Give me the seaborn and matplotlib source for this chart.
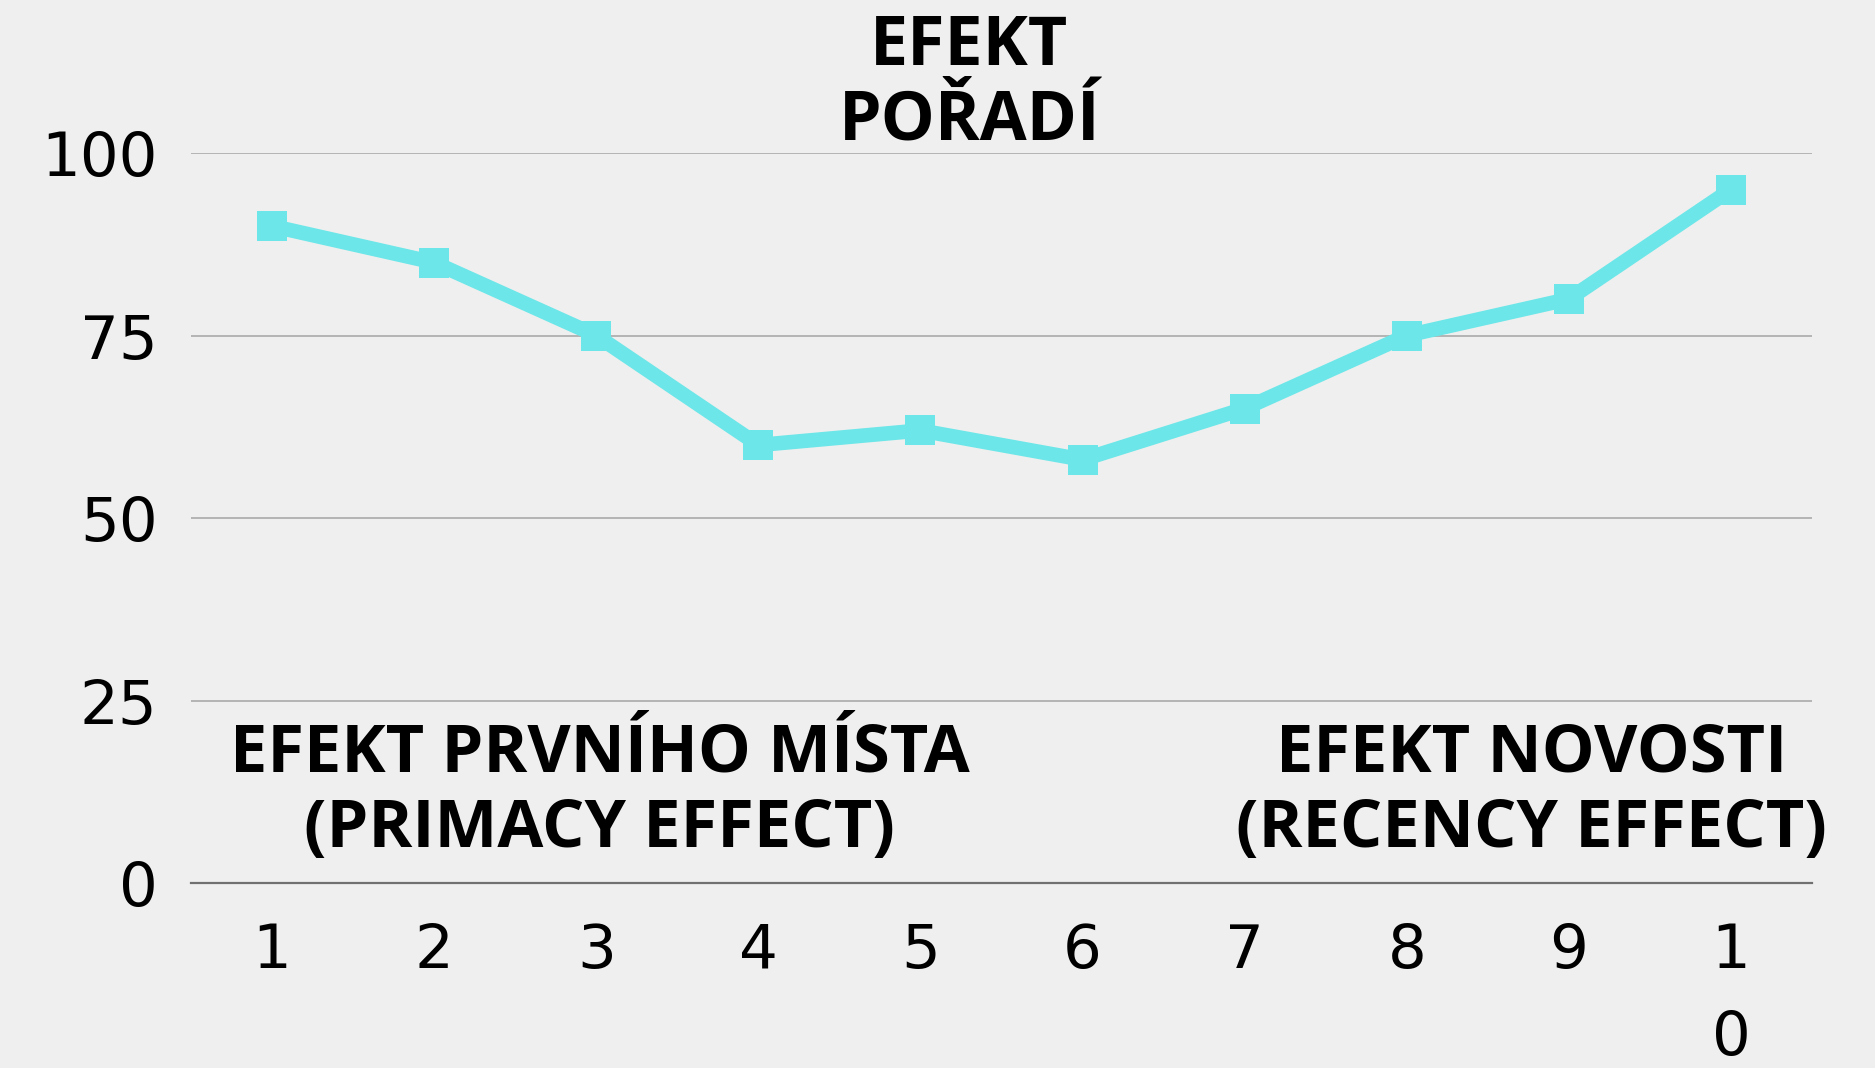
import matplotlib
matplotlib.use("Agg")
import matplotlib.pyplot as plt
import seaborn as sns
import pandas as pd

# serial position data
positions = [1, 2, 3, 4, 5, 6, 7, 8, 9, 10]
recall = [90, 85, 75, 60, 62, 58, 65, 75, 80, 95]
x_labels = ["1", "2", "3", "4", "5", "6", "7", "8", "9", "1\n0"]
y_ticks = [0, 25, 50, 75, 100]

title = "EFEKT\nPOŘADÍ"
primacy_label = "EFEKT PRVNÍHO MÍSTA\n(PRIMACY EFFECT)"
recency_label = "EFEKT NOVOSTI\n(RECENCY EFFECT)"

line_color = "#6ce6e8"
bg = "#efefef"

sns.set_style("white")
plt.rcParams["font.family"] = ["DejaVu Sans"]
plt.rcParams["text.color"] = "black"

df = pd.DataFrame({"pozice": positions, "hodnota": recall})

fig = plt.figure(figsize=(18.75, 10.68), dpi=100, facecolor=bg)
ax = fig.add_axes([0.1019, 0.1732, 0.8645, 0.6835])
ax.set_facecolor(bg)

ax.grid(axis="y", color="#b4b4b4", linewidth=1.4)
ax.set_axisbelow(True)

sns.lineplot(data=df, x="pozice", y="hodnota", ax=ax, color=line_color,
             linewidth=10.5, marker="s", markersize=22, markeredgewidth=0,
             markerfacecolor=line_color, clip_on=False, zorder=3)

ax.set_xlim(0.5, 10.5)
ax.set_ylim(0, 100)
ax.set_xticks(positions)
ax.set_xticklabels(x_labels, linespacing=1.62)
ax.set_yticks(y_ticks)
ax.tick_params(axis="both", length=0, labelsize=44, colors="black")
ax.tick_params(axis="y", pad=24)
ax.tick_params(axis="x", pad=28)
ax.set_xlabel("")
ax.set_ylabel("")

for side in ["top", "right", "left"]:
    ax.spines[side].set_visible(False)
ax.spines["bottom"].set_color("#707070")
ax.spines["bottom"].set_linewidth(1.6)

fig.text(0.517, 0.921, title, ha="center", va="center", fontsize=49,
         fontweight="bold", family="Open Sans", linespacing=1.12, color="black")
ax.text(3.02, 12.5, primacy_label, ha="center", va="center", fontsize=48,
        fontweight="bold", family="Open Sans", linespacing=1.15, color="black")
ax.text(8.77, 12.5, recency_label, ha="center", va="center", fontsize=48,
        fontweight="bold", family="Open Sans", linespacing=1.15, color="black")

fig.savefig("out.png", dpi=100, facecolor=bg)
